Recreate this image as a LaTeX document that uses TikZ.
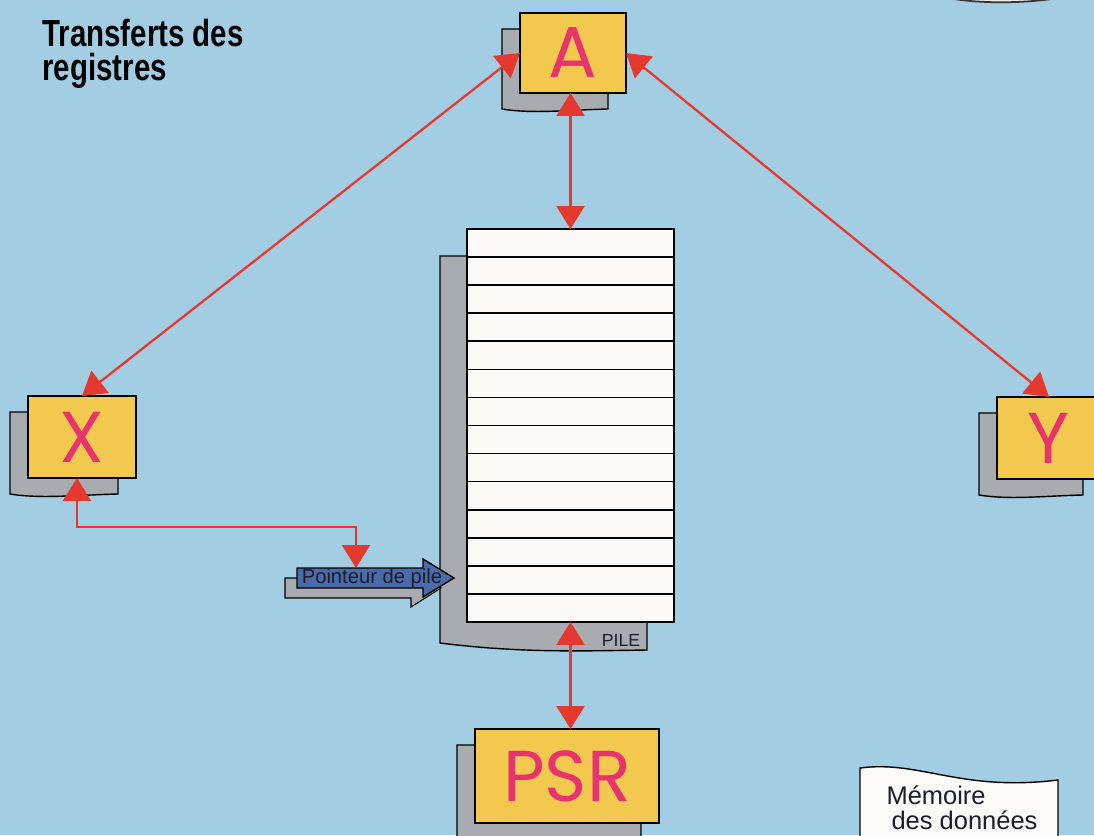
\documentclass[tikz,border=0pt]{standalone}
\usepackage{fontspec}
\setmainfont{Liberation Sans}
\newfontfamily\titlefont[FakeStretch=0.78]{Liberation Sans}
\newfontfamily\regfont{Poppins}
\usetikzlibrary{arrows.meta, positioning, calc, backgrounds}
\definecolor{bgblue}{HTML}{A3CDE3}
\definecolor{regyellow}{HTML}{F2C94E}
\definecolor{regpink}{HTML}{E8336F}
\definecolor{arrred}{HTML}{E5392F}
\definecolor{shadowgrey}{HTML}{A8ABAF}
\definecolor{ptrblue}{HTML}{4A6BA8}
\definecolor{inkdark}{HTML}{1A1D2E}

\begin{document}
\begin{tikzpicture}[x=0.02cm, y=-0.02cm,
  reg/.style={draw=black, fill=regyellow, line width=0.9pt, inner sep=0pt, outer sep=0pt,
              text=regpink, font=\regfont\fontsize{41}{41}\selectfont},
  cell/.style={draw=black, fill=white!96!brown, line width=0.9pt, inner sep=0pt, outer sep=0pt,
               minimum width=4.14cm, minimum height=0.5614cm},
  shadowbox/.style={draw=black, fill=shadowgrey, line width=0.8pt},
  biarr/.style={{Triangle[width=0.56cm, length=0.46cm]}-{Triangle[width=0.56cm, length=0.46cm]},
                draw=arrred, line width=1.3pt},
  title/.style={font=\titlefont\bfseries\fontsize{21.5}{19}\selectfont, align=left, inner sep=0pt}
]
\useasboundingbox (0,0) rectangle (1094,835);
\clip (0,0) rectangle (1094,835);

% registers
\node[reg, minimum width=2.12cm, minimum height=1.6cm]  (A)   at (573,53)  {A};
\node[reg, minimum width=2.16cm, minimum height=1.64cm] (X)   at (82,437)  {X};
\node[reg, minimum width=2.08cm, minimum height=1.64cm] (Y)   at (1049,438) {Y};
\node[reg, minimum width=3.68cm, minimum height=1.88cm] (PSR) at (567,776) {PSR};

% stack
\foreach \i in {1,...,14}
  \node[cell] (r\i) at (570.5,{229+(\i-0.5)*28.07}) {};
\node[font=\fontsize{10}{10}\selectfont, text=inkdark, inner sep=0pt] (pile) at (621,640) {PILE};

% stack pointer
\fill[shadowgrey, draw=black, line width=0.6pt] (285,578) -- (411,578) -- (411,570) -- (441,588)
  -- (411,607) -- (411,598) -- (285,598) -- cycle;
\filldraw[fill=ptrblue, draw=black, line width=0.8pt] (297,568) -- (423,568) -- (423,559) -- (454,578)
  -- (423,597) -- (423,588) -- (297,588) -- cycle;
\node[font=\fontsize{11.5}{11.5}\selectfont, text=inkdark, inner sep=0pt] (ptr) at (372,578) {Pointeur de pile};
\coordinate (ptrin) at (356,568);

% data memory label
\filldraw[fill=white!97!brown, draw=black, line width=0.8pt] (860,768) .. controls (920,760) and (960,792) .. (1058,780)
  -- (1058,845) -- (860,845) -- cycle;
\node[font=\fontsize{14.5}{14}\selectfont, text=inkdark, align=left, inner sep=0pt] (mem) at (962,808)
  {Mémoire\\\hspace{0.1cm}des données};

% cut shape at top right
\filldraw[fill=white!85!gray, draw=black!80, line width=1pt] (935,-6) .. controls (960,5) and (1040,5) .. (1075,-6);

\node[title, anchor=north west] (head) at (42,19) {Transferts des\\registres};

% transfers
\draw[biarr] (A.west) -- (X.north);
\draw[biarr] (A.east) -- (Y.north);
\draw[biarr] (r1.north |- A.south) -- (r1.north);
\draw[biarr] (r14.south) -- (r14.south |- PSR.north);
\draw[biarr] ([xshift=-0.1cm]X.south) -- ++(0,49) -| (ptrin);

% paper shadows
\begin{scope}[on background layer]
  \fill[bgblue] (0,0) rectangle (1094,835);
  \foreach \n in {A,X,Y,PSR}
    \filldraw[shadowbox] ([shift={(-18,16)}]\n.north west) -- ([shift={(-18,16)}]\n.south west)
      .. controls +(30,5) and +(-40,1) .. ([shift={(-18,16)}]\n.south east)
      -- ([shift={(-18,16)}]\n.north east) -- cycle;
  \filldraw[shadowbox] (467,256) -- (440,256) -- (440,643) .. controls (520,653) and (580,651) .. (647,650)
    -- (647,600) -- (467,600) -- cycle;
\end{scope}
\end{tikzpicture}
\end{document}
